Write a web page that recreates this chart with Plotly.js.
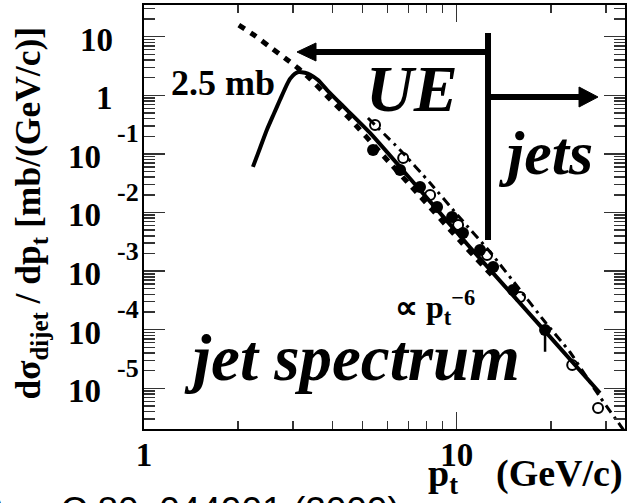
<!DOCTYPE html>
<html>
<head>
<meta charset="utf-8">
<script src="https://cdn.plot.ly/plotly-3.0.1.min.js"></script>
<style>
  html, body { margin: 0; padding: 0; background: #fff; }
  #chart { width: 628px; height: 503px; }
</style>
</head>
<body>
<div id="chart"></div>
<script>
// Dijet cross section dσ/dpt (mb/(GeV/c)) versus jet pt (GeV/c)

// model curve with the low-pt turnover (peak 2.5 mb)
const modelPt = [2.23, 2.35, 2.47, 2.60, 2.72, 2.82, 2.93, 3.04, 3.12, 3.27, 3.40, 3.60, 3.85, 4.14, 4.46, 5.28, 7.63, 11.0, 18.5, 28.7];
const modelXs = [0.060, 0.126, 0.256, 0.48, 0.83, 1.28, 1.90, 2.35, 2.5, 2.42, 2.25, 1.82, 1.23, 0.83, 0.56, 0.228, 0.0242, 0.00258, 1.16e-4, 8.3e-6];

// pQCD-like power law continued to low pt
const pqcdPt = [2.01, 2.27, 2.53, 2.82, 3.11, 3.40, 3.93, 4.56, 5.68, 7.63, 10.25, 13.3];
const pqcdXs = [15.8, 10.3, 6.67, 4.33, 2.9, 1.9, 0.865, 0.394, 0.1077, 0.0191, 0.00327, 7.3e-4];

// second parametrisation (dash-dot)
const fitPt = [5.20, 6.59, 8.22, 10.25, 12.78, 15.94, 19.16, 23.0, 27.7, 34.5];
const fitXs = [0.41, 0.1166, 0.0319, 0.00805, 0.00212, 4.76e-4, 1.35e-4, 4.16e-5, 9.35e-6, 1.8e-6];

// measured points, set A (filled)
const setAPt = [5.40, 6.59, 7.63, 8.65, 9.66, 10.47, 11.87, 13.07, 15.14, 19.16];
const setAXs = [0.1166, 0.0531, 0.0272, 0.0124, 0.00838, 0.00447, 0.00229, 0.00117, 4.76e-4, 9.9e-5];
const setAErrLow = [0, 0, 0, 0, 0, 0, 0, 0, 0, 5.7e-5];

// measured points, set B (open)
const setBPt = [5.48, 6.74, 8.22, 10.1, 12.5, 15.94, 23.4, 28.3];
const setBXs = [0.311, 0.0851, 0.0199, 0.00612, 0.00188, 3.61e-4, 2.5e-5, 4.6e-6];

// y-axis decade labels
const yDecades = [1, 0, -1, -2, -3, -4, -5];

const SERIF = 'Liberation Serif, Times New Roman, serif';
const SANS = 'Liberation Sans, Arial, sans-serif';
const bold = (size) => ({ family: SERIF, size: size, color: '#000', weight: 700 });
const boldItalic = (size) => ({ family: SERIF, size: size, color: '#000', weight: 700, style: 'italic' });

const traces = [
  {
    x: pqcdPt, y: pqcdXs, type: 'scatter', mode: 'lines',
    line: { color: '#000', width: 5, dash: '7px,7px', shape: 'spline', smoothing: 0.6 },
    hoverinfo: 'skip'
  },
  {
    x: fitPt, y: fitXs, type: 'scatter', mode: 'lines',
    line: { color: '#000', width: 3, dash: '9px,5px,3px,5px', shape: 'spline', smoothing: 0.5 },
    hoverinfo: 'skip'
  },
  {
    x: modelPt, y: modelXs, type: 'scatter', mode: 'lines',
    line: { color: '#000', width: 4, shape: 'spline', smoothing: 0.6 },
    hoverinfo: 'skip'
  },
  {
    x: setBPt, y: setBXs, type: 'scatter', mode: 'markers',
    marker: { symbol: 'circle-open', size: 10, color: '#000', line: { width: 2, color: '#000' } },
    hoverinfo: 'skip'
  },
  {
    x: setAPt, y: setAXs, type: 'scatter', mode: 'markers',
    marker: { symbol: 'circle', size: 12, color: '#000' },
    error_y: { type: 'data', symmetric: false, array: setAErrLow.map(() => 0), arrayminus: setAErrLow, color: '#000', thickness: 2.5, width: 0 },
    hoverinfo: 'skip'
  }
];

const annotations = [];

// y tick labels in the "10 with raised exponent" style
yDecades.forEach(d => {
  if (d === 1 || d === 0) {
    annotations.push({
      xref: 'paper', yref: 'y', x: 0, y: d, xanchor: 'right', yanchor: 'middle',
      xshift: -29, yshift: -3, showarrow: false, text: d === 1 ? '10' : '1', font: bold(33)
    });
  } else {
    annotations.push({
      xref: 'paper', yref: 'y', x: 0, y: d, xanchor: 'right', yanchor: 'middle',
      xshift: -41, yshift: -3, showarrow: false, text: '10', font: bold(33)
    });
    annotations.push({
      xref: 'paper', yref: 'y', x: 0, y: d, xanchor: 'right', yanchor: 'middle',
      xshift: -3, yshift: 20, showarrow: false, text: String(d), font: bold(26)
    });
  }
});

// axis titles
annotations.push({
  xref: 'paper', yref: 'paper', x: -0.237, y: 0.508, xanchor: 'center', yanchor: 'middle',
  textangle: -90, showarrow: false,
  text: 'dσ<sub>dijet</sub> / dp<sub>t</sub> [mb/(GeV/c)]', font: bold(35.5)
});
annotations.push({
  xref: 'paper', yref: 'paper', x: 1, y: 0, xanchor: 'right', yanchor: 'middle',
  yshift: -47, showarrow: false,
  text: 'p<sub>t</sub>\u00A0\u00A0\u00A0\u00A0(GeV/c)', font: bold(38)
});

// in-plot labels
annotations.push({ xref: 'paper', yref: 'paper', x: (223 - 144) / 481, y: (429 - 83) / 424,
  xanchor: 'center', yanchor: 'middle', showarrow: false, text: '2.5 mb', font: bold(36) });
annotations.push({ xref: 'paper', yref: 'paper', x: (412 - 144) / 481, y: (429 - 88) / 424,
  xanchor: 'center', yanchor: 'middle', showarrow: false, text: 'UE', font: boldItalic(66) });
annotations.push({ xref: 'paper', yref: 'paper', x: (545 - 144) / 481, y: (429 - 153) / 424,
  xanchor: 'center', yanchor: 'middle', showarrow: false, text: 'jets', font: boldItalic(62) });
annotations.push({ xref: 'paper', yref: 'paper', x: (352 - 144) / 481, y: (429 - 358) / 424,
  xanchor: 'center', yanchor: 'middle', showarrow: false, text: 'jet spectrum', font: boldItalic(65) });
annotations.push({ xref: 'paper', yref: 'paper', x: (435 - 144) / 481, y: (429 - 308) / 424,
  xanchor: 'center', yanchor: 'middle', showarrow: false,
  text: '∝ p<sub>t</sub><sup>−6</sup>', font: bold(32) });

// reference line along the bottom edge
annotations.push({ xref: 'paper', yref: 'paper', x: (402 - 144) / 481, y: (429 - 488) / 424,
  xanchor: 'right', yanchor: 'top', showarrow: false,
  text: 'Phys. Rev. C 80, 044901 (2009)', font: { family: SANS, size: 37, color: '#000' } });

// UE / jets divider and arrows (paper coordinates)
const shapes = [
  { type: 'line', xref: 'paper', yref: 'paper', x0: 0.7152, x1: 0.7152, y0: 0.4458, y1: 0.934,
    line: { color: '#000', width: 6 } },
  { type: 'line', xref: 'paper', yref: 'paper', x0: 0.7152, x1: 0.350, y0: 0.8892, y1: 0.8892,
    line: { color: '#000', width: 6 } },
  { type: 'path', xref: 'paper', yref: 'paper',
    path: 'M 0.3181 0.8892 L 0.3576 0.9104 L 0.3576 0.8679 Z',
    fillcolor: '#000', line: { color: '#000', width: 1 } },
  { type: 'line', xref: 'paper', yref: 'paper', x0: 0.7152, x1: 0.910, y0: 0.7830, y1: 0.7830,
    line: { color: '#000', width: 6 } },
  { type: 'path', xref: 'paper', yref: 'paper',
    path: 'M 0.9439 0.7830 L 0.9044 0.8066 L 0.9044 0.7594 Z',
    fillcolor: '#000', line: { color: '#000', width: 1 } }
];

const tickCol = '#333';
const layout = {
  width: 628, height: 503,
  margin: { l: 144, r: 3, t: 5, b: 74 },
  paper_bgcolor: '#fff', plot_bgcolor: '#fff',
  showlegend: false,
  xaxis: {
    type: 'log', range: [0, 1.538],
    showline: true, linewidth: 2, linecolor: '#000', mirror: 'ticks',
    ticks: 'inside', ticklen: 17, tickwidth: 1.5, tickcolor: tickCol,
    tick0: 0, dtick: 1,
    tickfont: bold(33), ticklabelstandoff: -5,
    showgrid: false, zeroline: false,
    minor: { ticks: 'inside', ticklen: 8, tickwidth: 1.5, tickcolor: tickCol, dtick: 'D1', showgrid: false }
  },
  yaxis: {
    type: 'log', range: [-5.695, 1.541],
    showline: true, linewidth: 2, linecolor: '#000', mirror: 'ticks',
    ticks: 'inside', ticklen: 21, tickwidth: 1.5, tickcolor: tickCol,
    tick0: 0, dtick: 1, showticklabels: false,
    showgrid: false, zeroline: false,
    minor: { ticks: 'inside', ticklen: 11, tickwidth: 1.5, tickcolor: tickCol, dtick: 'D1', showgrid: false }
  },
  annotations: annotations,
  shapes: shapes
};

Plotly.newPlot('chart', traces, layout, { staticPlot: true, displayModeBar: false });
</script>
</body>
</html>
